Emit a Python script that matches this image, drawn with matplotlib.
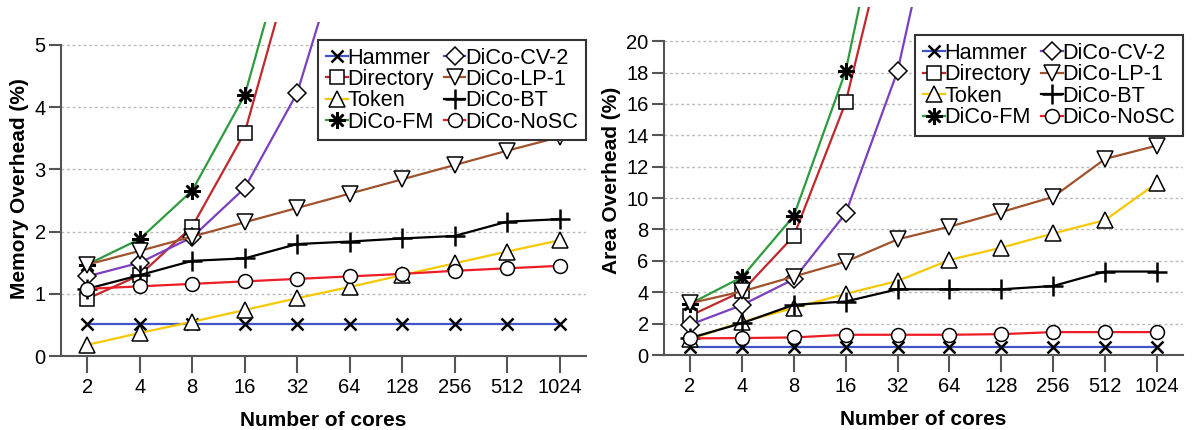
import numpy as np
import matplotlib
matplotlib.use("Agg")
import matplotlib.pyplot as plt

plt.rcParams['font.family'] = ['Liberation Sans', 'DejaVu Sans']

cores = ['2', '4', '8', '16', '32', '64', '128', '256', '512', '1024']

# memory overhead (%) -- last value of the fast-growing series is off the chart
mem_hammer = [0.52, 0.52, 0.52, 0.52, 0.52, 0.52, 0.52, 0.52, 0.52, 0.52]
mem_directory = [0.92, 1.30, 2.08, 3.59, 6.6]
mem_token = [0.18, 0.37, 0.55, 0.74, 0.93, 1.11, 1.30, 1.49, 1.68, 1.86]
mem_fm = [1.47, 1.88, 2.66, 4.19, 7.2]
mem_cv2 = [1.28, 1.50, 1.91, 2.70, 4.23, 7.0]
mem_lp1 = [1.47, 1.69, 1.92, 2.15, 2.38, 2.61, 2.84, 3.07, 3.30, 3.52]
mem_bt = [1.08, 1.30, 1.53, 1.57, 1.80, 1.84, 1.89, 1.93, 2.16, 2.20]
mem_nosc = [1.08, 1.12, 1.16, 1.20, 1.24, 1.28, 1.32, 1.37, 1.41, 1.45]

# area overhead (%)
area_hammer = [0.52, 0.52, 0.52, 0.52, 0.52, 0.52, 0.52, 0.52, 0.52, 0.52]
area_directory = [2.5, 4.05, 7.58, 16.1, 29.7]
area_token = [1.0, 2.1, 3.0, 3.9, 4.72, 6.06, 6.84, 7.75, 8.6, 10.97]
area_fm = [3.26, 4.96, 8.86, 18.1, 33.7]
area_cv2 = [1.93, 3.18, 4.83, 9.03, 18.1, 33.0]
area_lp1 = [3.3, 4.05, 5.0, 5.95, 7.37, 8.18, 9.11, 10.08, 12.5, 13.35]
area_bt = [1.08, 2.03, 3.2, 3.41, 4.19, 4.19, 4.19, 4.4, 5.32, 5.32]
area_nosc = [1.06, 1.08, 1.12, 1.29, 1.29, 1.29, 1.33, 1.46, 1.46, 1.46]

names = ['Hammer', 'Directory', 'Token', 'DiCo-FM',
         'DiCo-CV-2', 'DiCo-LP-1', 'DiCo-BT', 'DiCo-NoSC']
colors = ['#3f55c8', '#c0282d', '#f5c800', '#2e9a3e',
          '#7b3fc0', '#a0522d', '#000000', '#ee1c25']
markers = ['x', 's', '^', (8, 2, 0), 'D', 'v', '+', 'o']
msizes = [9, 10, 11, 12, 9, 11, 15, 10]

mem = [mem_hammer, mem_directory, mem_token, mem_fm,
       mem_cv2, mem_lp1, mem_bt, mem_nosc]
area = [area_hammer, area_directory, area_token, area_fm,
        area_cv2, area_lp1, area_bt, area_nosc]
# how many points of each series have a visible marker
visible = [10, 4, 10, 4, 5, 10, 10, 10]


def draw(ax, data, ylim_top, ymax, ystep, ylabel, leg_y):
    x = np.arange(len(cores))
    for vals, name, c, m, ms, nv in zip(data, names, colors, markers, msizes, visible):
        ax.plot(x[:len(vals)], vals, color=c, lw=1.6, marker=m, ms=ms,
                mfc='white', mec='black', mew=1.8 if m in ('+', 'x', (8, 2, 0)) else 1.1,
                markevery=list(range(nv)), label=name)
    ax.set_xlim(-0.5, 9.5)
    ax.set_ylim(0, ylim_top)
    ax.set_xticks(x)
    ax.set_xticklabels(cores)
    ax.set_yticks(np.arange(0, ymax + 0.01, ystep))
    for s in ['top', 'right']:
        ax.spines[s].set_visible(False)
    ax.spines['left'].set_bounds(0, ymax)
    for s in ['left', 'bottom']:
        ax.spines[s].set_color('#555555')
        ax.spines[s].set_linewidth(1.5)
    ax.tick_params(axis='x', length=12, width=1.5, color='#555555', labelsize=14.5, pad=4)
    ax.tick_params(axis='y', length=9, width=1.5, color='#555555', labelsize=14.5, pad=2)
    ax.yaxis.grid(True, ls=(0, (2, 2)), color='#bbbbbb', lw=1)
    ax.set_axisbelow(True)
    ax.set_xlabel('Number of cores', fontsize=15, fontweight='bold', labelpad=10)
    ax.set_ylabel(ylabel, fontsize=15, fontweight='bold', labelpad=4)
    leg = ax.legend(ncol=2, loc='upper right', bbox_to_anchor=(1.0, leg_y),
                    fontsize=15.6, handlelength=1.0, handletextpad=0.0,
                    columnspacing=0.45, labelspacing=0.02, borderpad=0.35,
                    fancybox=False, framealpha=1, borderaxespad=0)
    leg.get_frame().set_edgecolor('#333333')
    leg.get_frame().set_linewidth(1.5)


fig = plt.figure(figsize=(11.93, 4.30), dpi=100)
ax1 = fig.add_axes([0.0511, 0.172, 0.440, 0.777])
ax2 = fig.add_axes([0.5566, 0.1744, 0.435, 0.810])

draw(ax1, mem, 5.37, 5, 1, 'Memory Overhead (%)', 0.946)
draw(ax2, area, 22.2, 20, 2, 'Area Overhead (%)', 0.918)

fig.savefig('out.png', dpi=100)
